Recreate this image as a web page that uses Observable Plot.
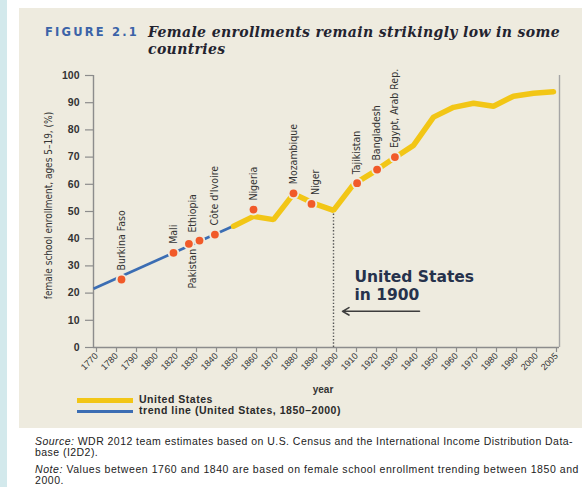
<!DOCTYPE html>
<html><head><meta charset="utf-8">
<script src="https://cdn.jsdelivr.net/npm/d3@7"></script>
<script src="https://cdn.jsdelivr.net/npm/@observablehq/plot@0.6"></script>
<style>
html,body{margin:0;padding:0;}
body{width:582px;height:487px;background:#fff;position:relative;overflow:hidden;font-family:"Liberation Sans",Arial,sans-serif;}
#strip{position:absolute;left:0;top:0;width:7px;height:487px;background:#d3e9ec;}
#panel{position:absolute;left:19px;top:8px;width:563px;height:420px;background:#eeebdf;}
#chart{position:absolute;left:0;top:0;}
.t{position:absolute;white-space:nowrap;}
#fig{font:bold 11.5px/11.5px "DejaVu Sans",sans-serif;color:#3b63a8;}
.ttl{font:italic bold 14px/14px "DejaVu Serif",serif;color:#23232f;}
.leg{font:bold 10.5px/10.5px "Liberation Sans",Arial,sans-serif;color:#2a2a2a;}
.src{font:10.5px/10.5px "Liberation Sans",Arial,sans-serif;color:#222;}
.sw{position:absolute;}
g[aria-label="annotation"]{letter-spacing:0.9px;}
</style></head>
<body>
<div id="strip"></div>
<div id="panel"></div>
<div id="chart"></div>
<div class="t" id="fig">FIGURE 2.1</div>
<div class="t ttl" id="t1">Female enrollments remain strikingly low in some</div>
<div class="t ttl" id="t2">countries</div>
<div class="sw" id="swY"></div>
<div class="sw" id="swB"></div>
<div class="t leg" id="l1">United States</div>
<div class="t leg" id="l2">trend line (United States, 1850–2000)</div>
<div class="t src" id="s1"><i>Source:</i> WDR 2012 team estimates based on U.S. Census and the International Income Distribution Data-</div>
<div class="t src" id="s2">base (I2D2).</div>
<div class="t src" id="n1"><i>Note:</i> Values between 1760 and 1840 are based on female school enrollment trending between 1850 and</div>
<div class="t src" id="n2">2000.</div>
<script>
// ---------- data ----------
const yTicks = [0,10,20,30,40,50,60,70,80,90,100];
const tickYears = [1770,1780,1790,1800,1820,1830,1840,1850,1860,1870,1880,1890,1900,1910,1920,1930,1940,1950,1960,1970,1980,1990,2000,2005];
const tickLabels = ["1770","1780","1790","1800","1820","1830","1840","1850","1860","1870","1880","1890","1900","1910","1920","1930","1940","1950","1960","1970","1980","1990","2000","2005"];
const usYears = [1850,1860,1870,1880,1890,1900,1910,1920,1930,1940,1950,1960,1970,1980,1990,2000,2005];
const usValues = [44.6,48.2,47.0,56.5,53.0,50.4,60.0,64.5,69.5,74.3,84.7,88.3,89.8,88.7,92.4,93.5,94.0];
const trendYears = [1770,1850];
const trendValues = [21.6,44.7];
const countryNames = ["Burkina Faso","Mali","Pakistan","Ethiopia","Côte d'Ivoire","Nigeria","Mozambique","Niger","Tajikistan","Bangladesh","Egypt, Arab Rep."];
const countryYears = [1784,1820,1827.7,1833,1840.7,1860,1880,1889,1911.8,1921.8,1930.7];
const countryValues = [25.0,34.8,38.1,39.3,41.5,50.7,56.7,52.8,60.4,65.4,70.0];
const annotationLines = ["United States", "in 1900"];
const yLabel = "female school enrollment, ages 5–19, (%)";
const xLabel = "year";

// colours
const BG = "#eeebdf", YEL = "#f2c616", BLUE = "#3b6db3", ORANGE = "#f15a29";
const NARROW = "'Liberation Sans Narrow','DejaVu Sans Condensed','Arial Narrow',sans-serif";

// ordinal-like year axis: each labelled tick is one step
const pos = d3.scaleLinear().domain(tickYears).range(d3.range(tickYears.length));
const xMax = tickYears.length - 1 + 0.3;

const us = usYears.map((year, i) => ({year, v: usValues[i]}));
const trend = trendYears.map((year, i) => ({year, v: trendValues[i]}));
const cdata = countryNames.map((name, i) => ({name, year: countryYears[i], v: countryValues[i]}));
const above = cdata.filter(d => !["Pakistan","Ethiopia","Niger"].includes(d.name));
const X = d => pos(d.year);
const annoStyle = {x: X, y: "v", dx: 21, textAnchor: "start", lineAnchor: "bottom", fontSize: 15.5, fontWeight: "bold", fontFamily: "'DejaVu Sans',sans-serif", fill: "#26324c", ariaLabel: "annotation"};

const chart = Plot.plot({
  width: 582, height: 400,
  marginLeft: 93, marginRight: 23, marginTop: 75, marginBottom: 53,
  style: {background: "transparent", fontFamily: "'Liberation Sans',Arial,sans-serif", overflow: "visible", color: "#333"},
  x: {domain: [0, xMax]},
  y: {domain: [0, 100]},
  marks: [
    Plot.ruleY([0], {stroke: "#8c8c8c", strokeWidth: 1.4}),
    Plot.ruleX([0], {stroke: "#8c8c8c", strokeWidth: 1.4}),
    Plot.ruleX([xMax], {stroke: "#a5a5a5", strokeWidth: 1.4}),
    Plot.axisY({ticks: yTicks, tickSize: 8, tickPadding: 6, fontSize: 10.5, fontWeight: "bold", fill: "#333", stroke: "#8c8c8c", strokeWidth: 1.2, label: null}),
    Plot.axisX({ticks: d3.range(tickYears.length), tickFormat: i => tickLabels[i], tickRotate: -45, tickSize: 5, tickPadding: 2, dx: 3, fontSize: 9, fill: "#333", stroke: "#8c8c8c", strokeWidth: 1.2, label: null}),
    Plot.text([yLabel], {text: d => d, frameAnchor: "left", textAnchor: "middle", rotate: -90, dx: -45, dy: -6, fontSize: 10, fontFamily: NARROW, fill: "#333"}),
    Plot.text([xLabel], {text: d => d, frameAnchor: "bottom", lineAnchor: "bottom", dx: -3.5, dy: 45, fontSize: 10, fontWeight: "bold", fill: "#333"}),
    Plot.ruleX([{year: 1900, v: 49.6}], {x: X, y1: 0, y2: "v", stroke: "#555", strokeWidth: 1.4, strokeDasharray: "1.4 1.9"}),
    Plot.line(trend, {x: X, y: "v", stroke: BLUE, strokeWidth: 2.7, strokeLinecap: "butt"}),
    Plot.line(us, {x: X, y: "v", stroke: YEL, strokeWidth: 5.5, strokeLinejoin: "miter", strokeLinecap: "round"}),
    Plot.dot(cdata, {x: X, y: "v", r: 5.8, fill: BG}),
    Plot.dot(cdata, {x: X, y: "v", r: 3.9, fill: ORANGE}),
    Plot.text(above, {x: X, y: "v", text: "name", rotate: -90, textAnchor: "start", dy: -9, fontSize: 10.5, fontFamily: NARROW, fill: "#333"}),
    Plot.text(cdata.filter(d => d.name === "Ethiopia"), {x: X, y: "v", text: "name", rotate: -90, textAnchor: "start", dx: -7, dy: -8, fontSize: 10.5, fontFamily: NARROW, fill: "#333"}),
    Plot.text(cdata.filter(d => d.name === "Niger"), {x: X, y: "v", text: "name", rotate: -90, textAnchor: "start", dx: 4, dy: -9, fontSize: 10.5, fontFamily: NARROW, fill: "#333"}),
    Plot.text(cdata.filter(d => d.name === "Pakistan"), {x: X, y: "v", text: "name", rotate: -90, textAnchor: "end", dx: 4, dy: 5, fontSize: 10.5, fontFamily: NARROW, fill: "#333"}),
    Plot.text([{year: 1900, v: 24.2}], {...annoStyle, text: () => annotationLines[0]}),
    Plot.text([{year: 1900, v: 17.55}], {...annoStyle, text: () => annotationLines[1]}),
    Plot.arrow([{from: 1943, to: 1900, v: 13.3}], {x1: d => pos(d.from), x2: d => pos(d.to), y1: "v", y2: "v", insetEnd: 9, stroke: "#3d3d3d", strokeWidth: 1.6, headLength: 7, headAngle: 60})
  ]
});
document.getElementById("chart").appendChild(chart);

// ---------- HTML text placement ----------
function place(id, left, baseline, fs) {
  const el = document.getElementById(id);
  el.style.left = left + "px";
  el.style.top = (baseline - 0.846 * fs) + "px";
  return el;
}
function fit(el, target) {
  const w = el.getBoundingClientRect().width;
  const n = el.textContent.length;
  const ls = (target - w) / n;
  el.style.letterSpacing = ls + "px";
  return ls;
}
fit(place("fig", 45, 37, 11.5), 94);
const lsT = fit(place("t1", 148, 37, 14), 412);
place("t2", 148, 54, 14).style.letterSpacing = lsT + "px";
fit(place("l1", 139, 403, 10.5), 74);
fit(place("l2", 139, 414, 10.5), 202);
const lsS = fit(place("s1", 35, 445, 10.5), 538);
place("s2", 35, 456, 10.5).style.letterSpacing = lsS + "px";
const lsN = fit(place("n1", 35, 473, 10.5), 544);
place("n2", 35, 483.5, 10.5).style.letterSpacing = lsN + "px";

const swY = document.getElementById("swY");
Object.assign(swY.style, {left: "77px", top: "398px", width: "56px", height: "5px", background: YEL});
const swB = document.getElementById("swB");
Object.assign(swB.style, {left: "77px", top: "410.4px", width: "56px", height: "2.6px", background: BLUE});
</script>
</body></html>
